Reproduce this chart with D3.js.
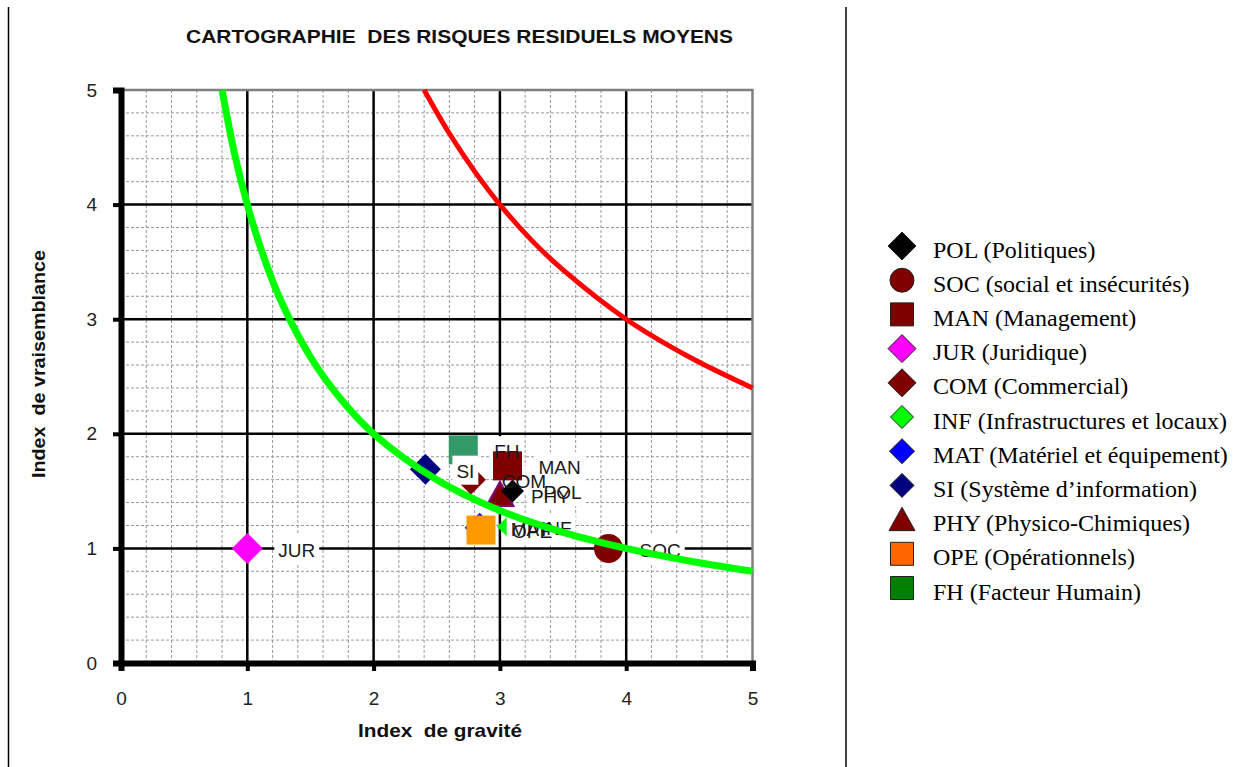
<!DOCTYPE html>
<html>
<head>
<meta charset="utf-8">
<script src="https://cdn.jsdelivr.net/npm/d3@7"></script>
<style>
  body { margin: 0; background: #fff; }
  svg { display: block; }
</style>
</head>
<body>
<div id="chart"></div>
<script>
// risk categories (legend order)
var codes = ["POL", "SOC", "MAN", "JUR", "COM", "INF", "MAT", "SI", "PHY", "OPE", "FH"];
var names = ["Politiques", "social et insécurités", "Management", "Juridique", "Commercial",
             "Infrastructures et locaux", "Matériel et équipement", "Système d’information",
             "Physico-Chimiques", "Opérationnels", "Facteur Humain"];
// average residual gravity / likelihood
var gravite       = [3.10, 3.86, 3.06, 1.00, 2.77, 3.08, 2.84, 2.41, 3.00, 2.85, 2.71];
var vraisemblance = [1.50, 1.00, 1.72, 1.00, 1.60, 1.19, 1.18, 1.69, 1.47, 1.16, 1.86];

// iso-risk curves (gravity x likelihood = 4 and = 12)
var greenCurveX = [0.8, 0.9, 1, 1.1, 1.25, 1.5, 1.75, 2, 2.5, 3, 3.5, 4, 4.5, 5];
var greenCurveY = [5, 4.44, 4, 3.64, 3.2, 2.67, 2.29, 2, 1.6, 1.33, 1.14, 1, 0.89, 0.8];
var redCurveX = [2.4, 2.6, 2.8, 3, 3.25, 3.5, 4, 4.5, 5];
var redCurveY = [5, 4.62, 4.29, 4, 3.69, 3.43, 3, 2.67, 2.4];

var xTicks = [0, 1, 2, 3, 4, 5];
var yTicks = [0, 1, 2, 3, 4, 5];

// marker look per category
var markerStyle = {
  POL: { shape: "diamond",  size: 23, fill: "#000000", legendSize: 28, legendFill: "#000000" },
  SOC: { shape: "circle",   size: 29, fill: "#800000", legendSize: 24, legendFill: "#800000" },
  MAN: { shape: "square",   size: 29, fill: "#800000", legendSize: 23, legendFill: "#800000" },
  JUR: { shape: "diamond",  size: 31, fill: "#ff00ff", legendSize: 28, legendFill: "#ff00ff" },
  COM: { shape: "diamond",  size: 30, fill: "#800000", legendSize: 28, legendFill: "#800000" },
  INF: { shape: "diamond",  size: 26, fill: "#00ff00", legendSize: 23, legendFill: "#00ff00" },
  MAT: { shape: "diamond",  size: 30, fill: "#0000ff", legendSize: 25, legendFill: "#0000ff" },
  SI:  { shape: "diamond",  size: 31, fill: "#000080", legendSize: 24, legendFill: "#000080" },
  PHY: { shape: "triangle", size: 27, fill: "#800000", stroke: "#800080", legendSize: 26, legendFill: "#800000" },
  OPE: { shape: "square",   size: 29, fill: "#ff9900", legendSize: 23, legendFill: "#ff6600" },
  FH:  { shape: "square",   size: 29, fill: "#339966", legendSize: 23, legendFill: "#008000" }
};
// stacking of marker + label box on the plot
var drawOrder = ["SOC", "JUR", "FH", "COM", "SI", "PHY", "POL", "MAN", "INF", "MAT", "OPE"];

(function () {
  var W = 1239, H = 767;
  var plotLeft = 121, plotRight = 752.5, plotTop = 90, plotBottom = 663;

  var svg = d3.select("#chart").append("svg")
      .attr("width", W)
      .attr("height", H)
      .style("font-family", "'Liberation Sans', Arial, sans-serif");

  svg.append("rect").attr("width", W).attr("height", H).attr("fill", "#fff");

  // frame lines at both sides of the page
  svg.append("line").attr("x1", 8.5).attr("x2", 8.5).attr("y1", 7).attr("y2", H).attr("stroke", "#000").attr("stroke-width", 1.5);
  svg.append("line").attr("x1", 846).attr("x2", 846).attr("y1", 7).attr("y2", H).attr("stroke", "#000").attr("stroke-width", 1.5);

  var x = d3.scaleLinear().domain([0, 5]).range([plotLeft, plotRight]);
  var y = d3.scaleLinear().domain([0, 5]).range([plotBottom, plotTop]);

  function shapePath(shape, s) {
    var p = d3.path(), h = s / 2;
    if (shape === "circle") {
      p.arc(0, 0, h, 0, 2 * Math.PI);
    } else if (shape === "square") {
      p.rect(-h, -h, s, s);
    } else if (shape === "diamond") {
      p.moveTo(0, -h); p.lineTo(h, 0); p.lineTo(0, h); p.lineTo(-h, 0); p.closePath();
    } else {
      p.moveTo(0, -h * 0.95); p.lineTo(h, h * 0.85); p.lineTo(-h, h * 0.85); p.closePath();
    }
    return p.toString();
  }

  // grid
  var minor = d3.range(1, 25).map(function (i) { return i * 0.2; })
      .filter(function (v) { return Math.abs(v - Math.round(v)) > 0.01; });
  var grid = svg.append("g");
  grid.selectAll(".mx").data(minor).enter().append("line")
      .attr("x1", function (d) { return x(d); }).attr("x2", function (d) { return x(d); })
      .attr("y1", y(0)).attr("y2", y(5))
      .attr("stroke", "#999").attr("stroke-width", 1).attr("stroke-dasharray", "3,2");
  grid.selectAll(".my").data(minor).enter().append("line")
      .attr("y1", function (d) { return y(d); }).attr("y2", function (d) { return y(d); })
      .attr("x1", x(0)).attr("x2", x(5))
      .attr("stroke", "#999").attr("stroke-width", 1).attr("stroke-dasharray", "3,2");
  grid.selectAll(".Mx").data([1, 2, 3, 4]).enter().append("line")
      .attr("x1", function (d) { return x(d); }).attr("x2", function (d) { return x(d); })
      .attr("y1", y(0)).attr("y2", y(5))
      .attr("stroke", "#000").attr("stroke-width", 2.5);
  grid.selectAll(".My").data([1, 2, 3, 4]).enter().append("line")
      .attr("y1", function (d) { return y(d); }).attr("y2", function (d) { return y(d); })
      .attr("x1", x(0)).attr("x2", x(5))
      .attr("stroke", "#000").attr("stroke-width", 2.5);

  // gray top and right border
  grid.append("path")
      .attr("d", "M" + x(0) + "," + y(5) + "H" + x(5) + "V" + y(0))
      .attr("fill", "none").attr("stroke", "#808080").attr("stroke-width", 2.5);

  // axes
  var xAxis = svg.append("g")
      .attr("transform", "translate(0," + plotBottom + ")")
      .call(d3.axisBottom(x).tickValues(xTicks).tickSize(8).tickPadding(21).tickFormat(d3.format("d")));
  var yAxis = svg.append("g")
      .attr("transform", "translate(" + plotLeft + ",0)")
      .call(d3.axisLeft(y).tickValues(yTicks).tickSize(8).tickPadding(16).tickFormat(d3.format("d")));
  [xAxis, yAxis].forEach(function (a) {
    a.select(".domain").attr("stroke", "#000").attr("stroke-width", 6);
    a.selectAll(".tick line").attr("stroke", "#000").attr("stroke-width", 4);
    a.selectAll(".tick text").attr("fill", "#222").style("font-size", "19px")
        .style("font-family", "'Liberation Sans', Arial, sans-serif");
  });

  var points = codes.map(function (c, i) {
    return { code: c, gx: gravite[i], vy: vraisemblance[i], st: markerStyle[c] };
  });
  var byCode = {};
  points.forEach(function (p) { byCode[p.code] = p; });
  var stacked = drawOrder.map(function (c) { return byCode[c]; });

  // markers and white label boxes, one group per series
  var series = svg.append("g").selectAll("g").data(stacked).enter().append("g");
  series.append("path")
      .attr("transform", function (d) { return "translate(" + x(d.gx) + "," + y(d.vy) + ")"; })
      .attr("d", function (d) { return shapePath(d.st.shape, d.st.size); })
      .attr("fill", function (d) { return d.st.fill; })
      .attr("stroke", function (d) { return d.st.stroke || "none"; })
      .attr("stroke-width", 2);
  var boxes = series.append("rect").attr("fill", "#fff");

  // label texts on top
  var labels = svg.append("g").selectAll("text").data(stacked).enter().append("text")
      .attr("x", function (d) { return x(d.gx) + 31; })
      .attr("y", function (d) { return y(d.vy); })
      .attr("dy", "0.44em")
      .attr("fill", "#1a1a1a")
      .style("font-size", "19px")
      .text(function (d) { return d.code; });
  labels.each(function (d, i) {
    var b = this.getBBox();
    d3.select(boxes.nodes()[i])
        .attr("x", b.x - 4).attr("y", b.y - 5)
        .attr("width", b.width + 8).attr("height", b.height + 8);
  });

  // iso-risk curves
  var line = d3.line()
      .x(function (d) { return x(d[0]); })
      .y(function (d) { return y(d[1]); })
      .curve(d3.curveCatmullRom);

  svg.append("path")
      .attr("d", line(d3.zip(greenCurveX, greenCurveY)))
      .attr("fill", "none").attr("stroke", "#00ff00").attr("stroke-width", 7);
  svg.append("path")
      .attr("d", line(d3.zip(redCurveX, redCurveY)))
      .attr("fill", "none").attr("stroke", "#ff0000").attr("stroke-width", 5);

  // titles
  svg.append("text")
      .attr("x", 186).attr("y", 43)
      .attr("textLength", 547).attr("lengthAdjust", "spacingAndGlyphs")
      .style("font-size", "18px").style("font-weight", "bold").style("white-space", "pre")
      .attr("fill", "#111")
      .text("CARTOGRAPHIE  DES RISQUES RESIDUELS MOYENS");

  svg.append("text")
      .attr("x", 358).attr("y", 737)
      .attr("textLength", 164).attr("lengthAdjust", "spacingAndGlyphs")
      .style("font-size", "19px").style("font-weight", "bold").style("white-space", "pre")
      .attr("fill", "#111")
      .text("Index  de gravité");

  svg.append("text")
      .attr("transform", "translate(45,478) rotate(-90)")
      .attr("textLength", 228).attr("lengthAdjust", "spacingAndGlyphs")
      .style("font-size", "19px").style("font-weight", "bold").style("white-space", "pre")
      .attr("fill", "#111")
      .text("Index  de vraisemblance");

  // legend
  var row = d3.scalePoint().domain(codes).range([246, 588]);
  var legend = svg.append("g").style("font-family", "'Liberation Serif', 'Times New Roman', serif");
  var items = legend.selectAll("g").data(points).enter().append("g")
      .attr("transform", function (d) { return "translate(0," + row(d.code) + ")"; });
  items.append("path")
      .attr("transform", "translate(902,0)")
      .attr("d", function (d) { return shapePath(d.st.shape, d.st.legendSize); })
      .attr("fill", function (d) { return d.st.legendFill; })
      .attr("stroke", "#222").attr("stroke-width", 1);
  items.append("text")
      .attr("x", 933).attr("y", 11.5)
      .attr("fill", "#000")
      .style("font-size", "24px")
      .text(function (d, i) { return d.code + " (" + names[i] + ")"; });
})();
</script>
</body>
</html>
